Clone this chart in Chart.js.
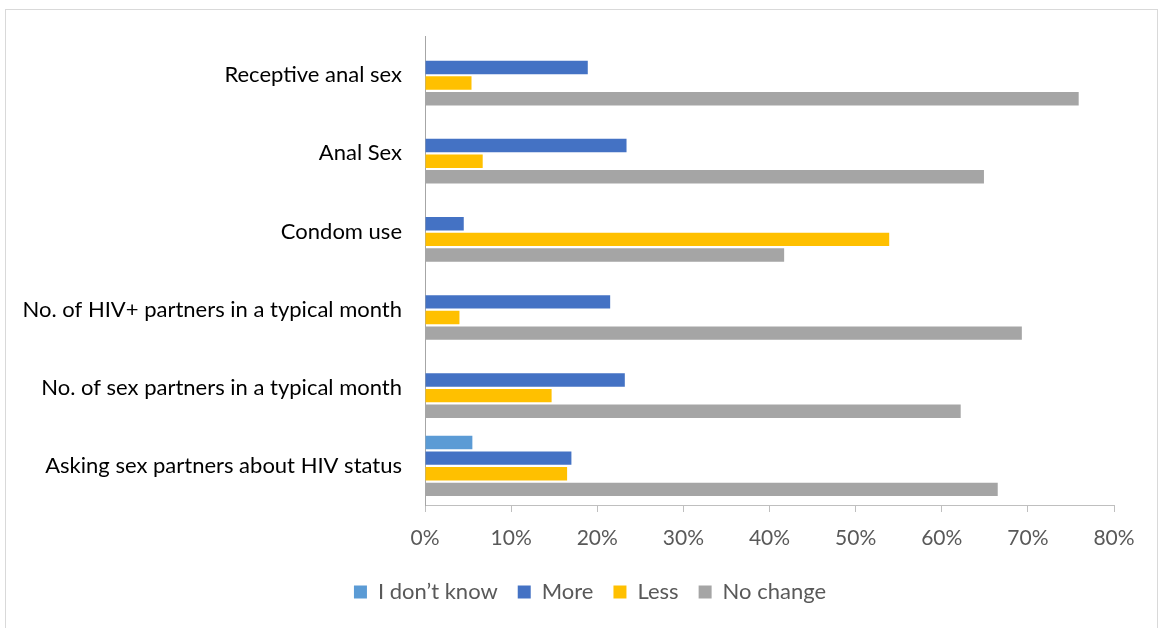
<!DOCTYPE html>
<html>
<head>
<meta charset="utf-8">
<script src="https://cdn.jsdelivr.net/npm/chart.js@4.4.1/dist/chart.umd.min.js"></script>
<style>
  html, body { margin: 0; padding: 0; background: #fff; overflow: hidden; }
  #frame {
    position: absolute; left: 5px; top: 9px; width: 1153px; height: 640px;
    border: 1px solid #d9d9d9; box-sizing: border-box;
  }
  #wrap { position: absolute; left: 0; top: 0; width: 1161px; height: 640px; }
</style>
</head>
<body>
<div id="frame"></div>
<div id="wrap"><canvas id="chart" width="1161" height="640"></canvas></div>
<script>
const categories = [
  'Receptive anal sex',
  'Anal Sex',
  'Condom use',
  'No. of HIV+ partners in a typical month',
  'No. of sex partners in a typical month',
  'Asking sex partners about HIV status'
];
const dontKnow = [null, null, null, null, null, 5.5];
const more     = [18.9, 23.4, 4.5, 21.5, 23.2, 17.0];
const less     = [5.4, 6.7, 53.9, 4.0, 14.7, 16.5];
const noChange = [75.9, 64.9, 41.7, 69.3, 62.2, 66.5];
const xTicks = [0, 10, 20, 30, 40, 50, 60, 70, 80];

const ctx = document.getElementById('chart').getContext('2d');
const font = "Lato, 'Open Sans', sans-serif";

// nudge the legend row right so it sits centred under the whole frame
const legendShift = {
  id: 'legendShift',
  afterLayout(chart) {
    if (chart.legend) chart.legend.left = 66;
  }
};

const data = {
  labels: categories,
  datasets: [
    { label: 'I don\u2019t know', data: dontKnow, backgroundColor: '#5b9bd5' },
    { label: 'More', data: more, backgroundColor: '#4472c4' },
    { label: 'Less', data: less, backgroundColor: '#ffc000' },
    { label: 'No change', data: noChange, backgroundColor: '#a5a5a5' }
  ]
};

const config = {
  type: 'bar',
  data: data,
  plugins: [legendShift],
  options: {
    indexAxis: 'y',
    responsive: false,
    animation: false,
    categoryPercentage: 0.8,
    barPercentage: 0.86,
    layout: { padding: { top: 33, right: 47, bottom: 27, left: 0 } },
    plugins: {
      tooltip: { enabled: false },
      legend: {
        position: 'bottom',
        labels: {
          font: { family: font, size: 22 },
          color: '#595959',
          boxWidth: 13,
          boxHeight: 13,
          padding: 20
        }
      }
    },
    scales: {
      x: {
        min: 0,
        max: 80,
        afterBuildTicks: (scale) => { scale.ticks = xTicks.map(v => ({ value: v })); },
        // keep the axis band fixed so the plot ends where the legend starts
        afterFit: (scale) => { scale.height = 56; },
        grid: { drawOnChartArea: false, drawTicks: true, tickLength: 7, color: '#bfbfbf' },
        border: { display: true, color: '#bfbfbf' },
        ticks: {
          callback: (v) => v + '%',
          font: { family: font, size: 21 },
          color: '#595959',
          padding: 14,
          maxRotation: 0
        }
      },
      y: {
        afterFit: (scale) => { scale.width = 425; },
        grid: { display: false, drawTicks: false },
        border: { display: true, color: '#a6a6a6' },
        ticks: {
          font: { family: font, size: 22 },
          color: '#000000',
          padding: 23
        }
      }
    }
  }
};

const myChart = new Chart(ctx, config);
</script>
</body>
</html>
